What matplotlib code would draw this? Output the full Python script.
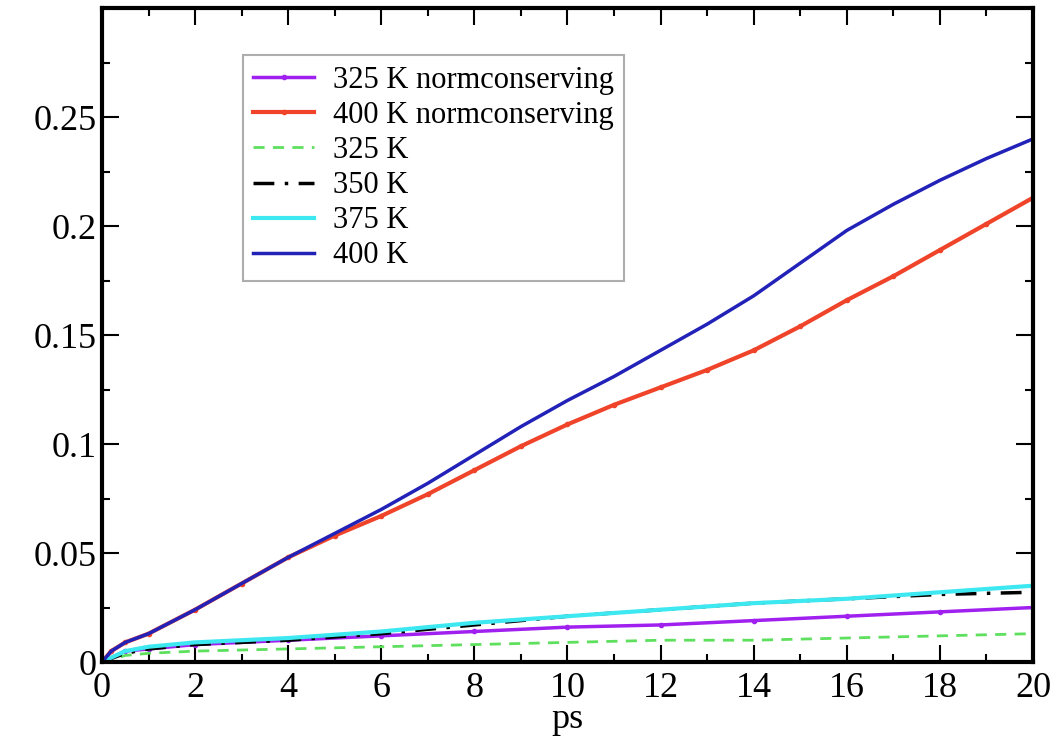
import numpy as np
import matplotlib
matplotlib.use("Agg")
import matplotlib.pyplot as plt
from matplotlib.ticker import MultipleLocator

plt.rcParams["font.family"] = ["Liberation Serif", "DejaVu Serif"]

# -------------------------------------------------
# Data (time in ps)
# -------------------------------------------------
t = [0, 0.2, 0.5, 1, 2, 3, 4, 5, 6, 7, 8, 9, 10,
     11, 12, 13, 14, 15, 16, 17, 18, 19, 20]

blue_400 = [0, 0.005, 0.009, 0.013, 0.024, 0.036, 0.048, 0.059, 0.070, 0.082, 0.095, 0.108, 0.120,
            0.131, 0.143, 0.155, 0.168, 0.183, 0.198, 0.210, 0.221, 0.231, 0.240]
red_400nc = [0, 0.005, 0.009, 0.013, 0.024, 0.036, 0.048, 0.058, 0.067, 0.077, 0.088, 0.099, 0.109,
             0.118, 0.126, 0.134, 0.143, 0.154, 0.166, 0.177, 0.189, 0.201, 0.213]

t_low = [0, 0.5, 1, 2, 4, 6, 8, 10, 12, 14, 16, 18, 20]
cyan_375 = [0, 0.005, 0.007, 0.009, 0.011, 0.014, 0.018, 0.021, 0.024, 0.027, 0.029, 0.032, 0.035]
black_350 = [0, 0.004, 0.006, 0.008, 0.010, 0.013, 0.017, 0.021, 0.024, 0.027, 0.029, 0.031, 0.032]
purple_325nc = [0, 0.005, 0.006, 0.008, 0.010, 0.012, 0.014, 0.016, 0.017, 0.019, 0.021, 0.023, 0.025]
green_325 = [0, 0.003, 0.004, 0.005, 0.006, 0.007, 0.008, 0.009, 0.010, 0.010, 0.011, 0.012, 0.013]

x_ticks = [0, 2, 4, 6, 8, 10, 12, 14, 16, 18, 20]
y_ticks = [0, 0.05, 0.1, 0.15, 0.2, 0.25]
y_tick_labels = ["0", "0.05", "0.1", "0.15", "0.2", "0.25"]

fig = plt.figure(figsize=(10.6, 7.4), dpi=100)
ax = fig.add_axes([0.0962, 0.1054, 0.8783, 0.8836])

ax.plot(t_low, purple_325nc, color="#a020f0", lw=2.5, marker="o", ms=3,
        label="325 K normconserving")
ax.plot(t, red_400nc, color="#f0442a", lw=3, marker="o", ms=3,
        label="400 K normconserving")
ax.plot(t_low, green_325, color="#5ee05e", lw=2, ls=(0, (4, 3)), label="325 K")
ax.plot(t_low, black_350, color="black", lw=2.5, ls=(0, (6, 3, 1, 3)), label="350 K")
ax.plot(t_low, cyan_375, color="#3de8f0", lw=3, label="375 K")
ax.plot(t, blue_400, color="#2222b8", lw=2.5, label="400 K")

ax.set_xlim(0, 20)
ax.set_ylim(0, 0.3)
ax.set_xticks(x_ticks)
ax.set_yticks(y_ticks)
ax.set_yticklabels(y_tick_labels)
ax.xaxis.set_minor_locator(MultipleLocator(1))
ax.yaxis.set_minor_locator(MultipleLocator(0.025))
ax.tick_params(which="both", direction="in", top=True, right=True, labelsize=26, width=1.5)
ax.tick_params(which="major", length=12)
ax.tick_params(which="minor", length=6)
ax.tick_params(axis="x", pad=7)
for s in ax.spines.values():
    s.set_linewidth(3)

ax.set_xlabel("ps", fontsize=26, labelpad=-1)

leg = ax.legend(loc="upper left", bbox_to_anchor=(0.151, 0.928), fontsize=22,
                frameon=True, fancybox=False, edgecolor="#999999",
                handlelength=2.0, handletextpad=0.6, labelspacing=0.2,
                borderpad=0.35, borderaxespad=0)
leg.get_frame().set_linewidth(1.5)

fig.savefig("out.png", dpi=100)
